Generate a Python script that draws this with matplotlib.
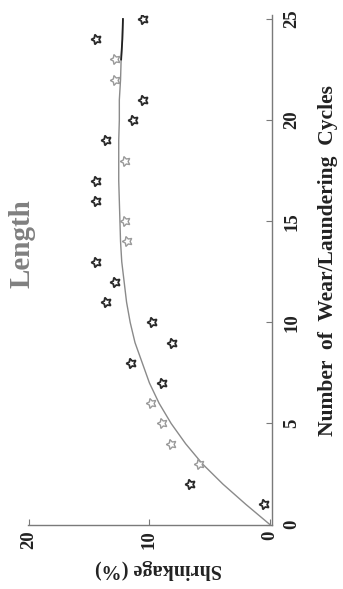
"""
plot.py - Length shrinkage vs wear/laundering cycles (chart printed turned on its side).

Usage:  python3 plot.py
Output: out.png
"""

import matplotlib.pyplot as plt

# star points: cycle number and measured shrinkage (%)
cycles = [1, 2, 3, 4, 5, 6, 7, 8, 9, 10, 11, 12, 13,
          14, 15, 16, 17, 18, 19, 20, 21, 22, 23, 24, 25]
shrinkage = [0.5, 6.6, 5.9, 8.2, 9.0, 9.9, 9.0, 11.5, 8.1, 9.8, 13.6, 12.9, 14.4,
             11.9, 12.0, 14.4, 14.4, 12.0, 13.6, 11.4, 10.5, 12.9, 12.9, 14.4, 10.5]
# points printed faint in the scan
faint = [3, 4, 5, 6, 14, 15, 18, 22, 23]

# fitted curve
fit_cycles = [0, 1, 2, 3, 4, 5, 6, 7, 8, 9, 10, 11, 12,
              13, 14, 15, 16, 17, 18, 19, 20, 21, 22, 23, 24, 25]
fit_shrinkage = [0.0, 2.0, 3.9, 5.6, 7.0, 8.2, 9.2, 10.0, 10.6, 11.2, 11.6, 11.9, 12.1,
                 12.3, 12.4, 12.45, 12.5, 12.55, 12.55, 12.55, 12.5, 12.5, 12.4, 12.35, 12.25, 12.2]

cycle_ticks = [0, 5, 10, 15, 20, 25]
shrink_ticks = [0, 10, 20]

W, H = 343, 589
fig = plt.figure(figsize=(W / 100, H / 100), dpi=100)
plt.rcParams["font.family"] = ["Liberation Serif", "DejaVu Serif"]

ax = fig.add_axes([28 / W, 1 - 525 / H, 244 / W, 510 / H])

# curve, last stretch printed darker
ax.plot(fit_shrinkage, fit_cycles, color="#8a8a8a", linewidth=1.0)
ax.plot(fit_shrinkage[23:], fit_cycles[23:], color="#222222", linewidth=1.3)

star = (5, 1, 90)  # star turned to point left, like the rotated print
dark_x = [s for c, s in zip(cycles, shrinkage) if c not in faint]
dark_y = [c for c in cycles if c not in faint]
light_x = [s for c, s in zip(cycles, shrinkage) if c in faint]
light_y = [c for c in cycles if c in faint]
ax.plot(dark_x, dark_y, linestyle="none", marker=star, markersize=7.5,
        markerfacecolor="white", markeredgecolor="#2a2a2a", markeredgewidth=1.3)
ax.plot(light_x, light_y, linestyle="none", marker=star, markersize=7.5,
        markerfacecolor="white", markeredgecolor="#9a9a9a", markeredgewidth=1.0)

ax.set_xlim(20.08, -0.17)
ax.set_ylim(-0.02, 25.2)

for side in ["top", "left"]:
    ax.spines[side].set_visible(False)
for side in ["bottom", "right"]:
    ax.spines[side].set_color("#7a7a7a")
    ax.spines[side].set_linewidth(1.0)

ax.yaxis.tick_right()
ax.set_xticks(shrink_ticks)
ax.set_yticks(cycle_ticks)
ax.tick_params(axis="x", direction="in", length=4, color="#7a7a7a", pad=4,
               labelsize=13.5, labelrotation=90)
ax.tick_params(axis="y", direction="in", length=4, color="#7a7a7a", pad=8,
               labelsize=13.5, labelrotation=90)
for lab in ax.get_xticklabels() + ax.get_yticklabels():
    lab.set_fontweight("bold")
    lab.set_color("#222222")
for lab in ax.get_yticklabels():
    lab.set_verticalalignment("center")

fig.text(22 / W, 1 - 244 / H, "Length", rotation=90, ha="center", va="center",
         fontsize=21, fontweight="bold", color="#808080")
fig.text(158 / W, 1 - 569 / H, "Shrinkage (%)", rotation=180, ha="center", va="center",
         fontsize=14.5, fontweight="bold", color="#222222")
fig.text(328 / W, 1 - 261 / H, "Number  of  Wear/Laundering  Cycles", rotation=90,
         ha="center", va="center", fontsize=15.5, fontweight="bold", color="#222222")

fig.savefig("out.png", dpi=100)
